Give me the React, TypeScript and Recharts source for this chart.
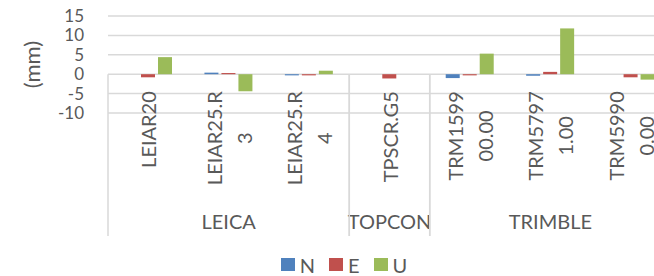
import { BarChart, Bar, XAxis, YAxis, CartesianGrid, Legend } from 'recharts'

const categories = ['LEIAR20', 'LEIAR25.R3', 'LEIAR25.R4', 'TPSCR.G5', 'TRM159900.00', 'TRM57971.00', 'TRM59900.00']
const groups = ['LEICA', 'LEICA', 'LEICA', 'TOPCON', 'TRIMBLE', 'TRIMBLE', 'TRIMBLE']
// labels wrapped the way Excel wrapped them
const tickLabels = [
  ['LEIAR20'],
  ['LEIAR25.R', '3'],
  ['LEIAR25.R', '4'],
  ['TPSCR.G5'],
  ['TRM1599', '00.00'],
  ['TRM5797', '1.00'],
  ['TRM5990', '0.00'],
]
const valuesN = [0, 0.4, -0.3, 0, -1.0, -0.4, 0]
const valuesE = [-0.8, 0.3, -0.3, -1.1, -0.3, 0.6, -0.8]
const valuesU = [4.4, -4.4, 0.9, 0, 5.3, 11.8, -1.4]
const yTicks = [-10, -5, 0, 5, 10, 15]

const series = [
  { key: 'N', color: '#4f81bd' },
  { key: 'E', color: '#c0504d' },
  { key: 'U', color: '#9bbb59' },
]

const data = categories.map((name, i) => ({
  name,
  N: valuesN[i],
  E: valuesE[i],
  U: valuesU[i],
}))

const W = 688
const H = 276
const PLOT_LEFT = 108
const PLOT_RIGHT = 671
const PLOT_TOP = 16
const PLOT_BOTTOM = 113
const BAND = (PLOT_RIGHT - PLOT_LEFT) / categories.length
const ZERO_Y = PLOT_TOP + ((15 - 0) / 25) * (PLOT_BOTTOM - PLOT_TOP)
const TEXT = '#595959'
const FONT = 'Lato, "Open Sans", sans-serif'

const ctx = typeof document !== 'undefined' ? document.createElement('canvas').getContext('2d') : null
function textWidth(s: string, size: number) {
  if (!ctx) return s.length * size * 0.55
  ctx.font = `${size}px Lato`
  return ctx.measureText(s).width
}

function CategoryTick({ x, payload }: any) {
  const lines = tickLabels[payload.index] || [payload.value]
  const len = Math.max(...lines.map((l) => textWidth(l, 20)))
  const top = ZERO_Y + 17
  const cy = top + len / 2
  return (
    <g>
      {lines.map((t, i) => {
        const lx = x + (i - (lines.length - 1) / 2) * 30
        return (
          <text
            key={i}
            transform={`translate(${lx},${cy}) rotate(-90)`}
            textAnchor="middle"
            dominantBaseline="central"
            fontSize={20}
            fontFamily={FONT}
            fill={TEXT}
          >
            {t}
          </text>
        )
      })}
    </g>
  )
}

function GroupTick({ x, y, payload }: any) {
  const i = payload.index
  const g = groups[i]
  const first = groups.indexOf(g)
  const last = groups.lastIndexOf(g)
  const mid = (first + last) / 2
  const lineBottom = y + 23
  return (
    <g>
      {i === Math.floor(mid) && (
        <text
          x={x + (mid - i) * BAND}
          y={y + 8}
          textAnchor="middle"
          dominantBaseline="central"
          fontSize={20}
          fontFamily={FONT}
          fill={TEXT}
        >
          {g}
        </text>
      )}
      {i === first && <line x1={x - BAND / 2} x2={x - BAND / 2} y1={ZERO_Y} y2={lineBottom} stroke="#d9d9d9" strokeWidth={1.5} />}
      {i === last && <line x1={x + BAND / 2} x2={x + BAND / 2} y1={ZERO_Y} y2={lineBottom} stroke="#d9d9d9" strokeWidth={1.5} />}
    </g>
  )
}

function LegendContent() {
  return (
    <div style={{ display: 'flex', justifyContent: 'center', alignItems: 'center', height: 23, gap: 14, fontFamily: FONT }}>
      {series.map((s) => (
        <span key={s.key} style={{ display: 'flex', alignItems: 'center', gap: 5, fontSize: 20, color: TEXT }}>
          <span style={{ width: 14, height: 13, background: s.color, display: 'inline-block' }} />
          {s.key}
        </span>
      ))}
    </div>
  )
}

function YLabel({ viewBox }: any) {
  const cy = viewBox.y + viewBox.height / 2
  return (
    <text
      transform={`translate(31,${cy}) rotate(-90)`}
      textAnchor="middle"
      dominantBaseline="central"
      fontSize={22}
      fontFamily={FONT}
      fill={TEXT}
    >
      (mm)
    </text>
  )
}

export default function App() {
  return (
    <div style={{ position: 'absolute', left: 0, top: 0, width: 654, height: H, overflow: 'hidden', background: '#fff' }}>
      <BarChart
        width={W}
        height={H}
        data={data}
        margin={{ top: PLOT_TOP, right: W - PLOT_RIGHT, bottom: 0, left: 0 }}
        barGap={3}
      >
        <CartesianGrid vertical={false} stroke="#d9d9d9" strokeWidth={1.5} />
        <YAxis
          width={PLOT_LEFT}
          domain={[-10, 15]}
          ticks={yTicks}
          interval={0}
          axisLine={false}
          tickLine={false}
          tickSize={0}
          tickMargin={24}
          tick={{ fontSize: 17, fill: TEXT, fontFamily: FONT }}
          label={(props: any) => <YLabel {...props} />}
        />
        <XAxis
          dataKey="name"
          height={100}
          axisLine={false}
          tickLine={false}
          tickSize={0}
          tickMargin={0}
          interval={0}
          tick={<CategoryTick />}
        />
        <XAxis
          xAxisId="group"
          dataKey="name"
          height={40}
          axisLine={false}
          tickLine={false}
          tickSize={0}
          tickMargin={0}
          interval={0}
          tick={<GroupTick />}
        />
        <Legend
          verticalAlign="bottom"
          content={<LegendContent />}
          wrapperStyle={{ left: 0, width: W, bottom: 0, height: 23 }}
        />
        {series.map((s) => (
          <Bar key={s.key} dataKey={s.key} fill={s.color} barSize={14} isAnimationActive={false} />
        ))}
      </BarChart>
    </div>
  )
}
